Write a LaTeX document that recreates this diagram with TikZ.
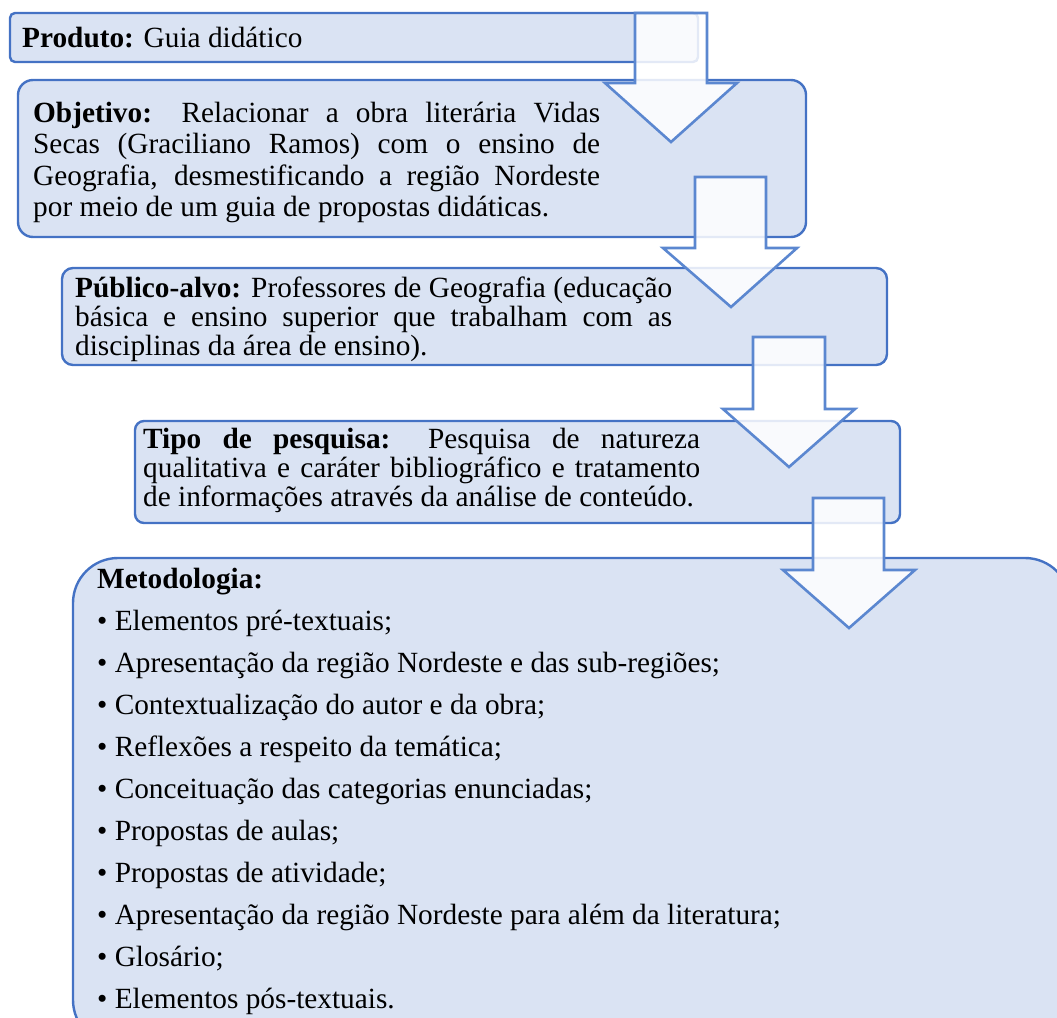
\documentclass[tikz,border=0pt]{standalone}
\usepackage{fontspec}
\setmainfont{Liberation Serif}
\definecolor{boxfill}{HTML}{DAE3F3}
\definecolor{boxline}{HTML}{4472C4}
\definecolor{arrline}{HTML}{5B87D0}
\tikzset{
  infobox/.style={draw=boxline, fill=boxfill, line width=2.4pt},
  downarrow/.style={draw=arrline, fill=white, fill opacity=0.85, line width=2.6pt, line join=miter},
  txt/.style={anchor=base west, inner sep=0pt, font=\fontsize{29.3}{32}\selectfont},
}
\newcommand{\jl}[2]{\makebox[#1][s]{#2}}
\begin{document}
\begin{tikzpicture}[x=1pt,y=-1pt]
\useasboundingbox (0,0) rectangle (1057,1017);
\clip (0,0) rectangle (1057,1017);
% boxes
\draw[infobox, rounded corners=5pt] (10,13) rectangle (698,62);
\draw[infobox, rounded corners=15pt] (18,80) rectangle (806,237);
\draw[infobox, rounded corners=11pt] (62,268) rectangle (887,365);
\draw[infobox, rounded corners=9pt] (135,421) rectangle (900,523);
\draw[infobox, rounded corners=45pt] (73,558) rectangle (1070,1045);
% box 1
\node[txt] (t1) at (22,47) {\textbf{Produto:} Guia didático};
% box 2
\node[txt] (t2a) at (33,122) {\jl{567pt}{\textbf{Objetivo:} Relacionar a obra literária Vidas}};
\node[txt] (t2b) at (33,153.5) {\jl{567pt}{Secas (Graciliano Ramos) com o ensino de}};
\node[txt] (t2c) at (33,185) {\jl{567pt}{Geografia, desmestificando a região Nordeste}};
\node[txt] (t2d) at (33,216.5) {por meio de um guia de propostas didáticas.};
% box 3
\node[txt] (t3a) at (75,297) {\jl{597pt}{\textbf{Público-alvo:} Professores de Geografia (educação}};
\node[txt] (t3b) at (75,326) {\jl{597pt}{básica e ensino superior que trabalham com as}};
\node[txt] (t3c) at (75,355) {disciplinas da área de ensino).};
% box 4
\node[txt] (t4a) at (143,448) {\jl{557pt}{\textbf{Tipo de pesquisa:} Pesquisa de natureza}};
\node[txt] (t4b) at (143,477) {\jl{557pt}{qualitativa e caráter bibliográfico e tratamento}};
\node[txt] (t4c) at (143,506) {de informações através da análise de conteúdo.};
% box 5
\node[txt] (t5h) at (97,588) {\textbf{Metodologia:}};
\node[txt] (t5a) at (97,630) {• Elementos pré-textuais;};
\node[txt] (t5b) at (97,672) {• Apresentação da região Nordeste e das sub-regiões;};
\node[txt] (t5c) at (97,714) {• Contextualização do autor e da obra;};
\node[txt] (t5d) at (97,756) {• Reflexões a respeito da temática;};
\node[txt] (t5e) at (97,798) {• Conceituação das categorias enunciadas;};
\node[txt] (t5f) at (97,840) {• Propostas de aulas;};
\node[txt] (t5g) at (97,882) {• Propostas de atividade;};
\node[txt] (t5i) at (97,924) {• Apresentação da região Nordeste para além da literatura;};
\node[txt] (t5j) at (97,966) {• Glosário;};
\node[txt] (t5k) at (97,1008) {• Elementos pós-textuais.};
% arrows
\draw[downarrow] (635,13) -- (707,13) -- (707,83) -- (737,83) -- (671,142) -- (605,83) -- (635,83) -- cycle;
\draw[downarrow] (695,177) -- (766,177) -- (766,248) -- (797,248) -- (731,307) -- (663,248) -- (695,248) -- cycle;
\draw[downarrow] (753,337) -- (825,337) -- (825,409) -- (855,409) -- (789,467) -- (723,409) -- (753,409) -- cycle;
\draw[downarrow] (813,498) -- (884,498) -- (884,570) -- (915,570) -- (849,628) -- (783,570) -- (813,570) -- cycle;
\end{tikzpicture}
\end{document}
